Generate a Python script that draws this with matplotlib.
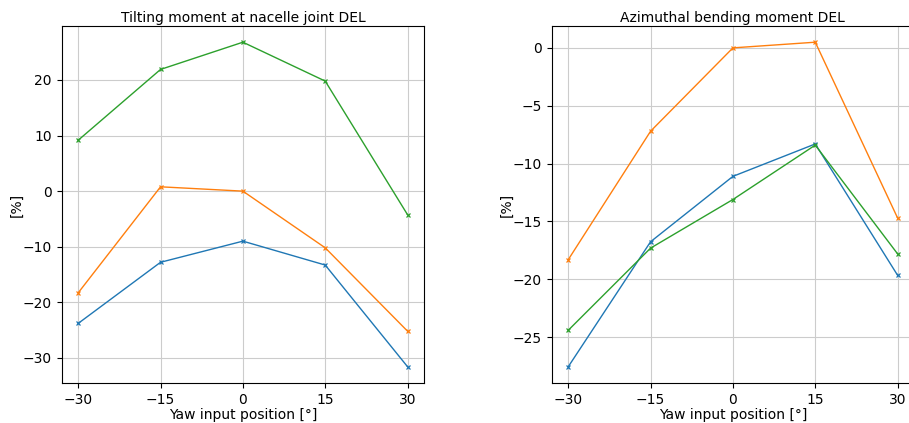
import numpy as np
import matplotlib
matplotlib.use("Agg")
import matplotlib.pyplot as plt

yaw = [-30, -15, 0, 15, 30]

# Tilting moment at nacelle joint, DEL change [%]
tilt_blue = [-23.8, -12.8, -9.0, -13.3, -31.6]
tilt_orange = [-18.3, 0.78, 0.0, -10.2, -25.2]
tilt_green = [9.16, 21.9, 26.8, 19.8, -4.25]

# Azimuthal bending moment, DEL change [%]
azi_blue = [-27.55, -16.75, -11.1, -8.3, -19.65]
azi_orange = [-18.3, -7.2, 0.0, 0.49, -14.7]
azi_green = [-24.4, -17.3, -13.1, -8.4, -17.8]

plt.rcParams["font.size"] = 10

fig = plt.figure(figsize=(9.09, 4.23), dpi=100)
ax1 = fig.add_axes([0.0679, 0.0946, 0.3986, 0.844])
ax2 = fig.add_axes([0.607, 0.0946, 0.3986, 0.844])

def draw(ax, series, title):
    for s in series:
        ax.plot(yaw, s, marker="x", markersize=3.5, markeredgewidth=0.9,
                linewidth=1)
    ax.set_title(title, fontsize=10, pad=3)
    ax.set_xlabel("Yaw input position [°]", labelpad=1)
    ax.set_ylabel("[%]", labelpad=-0.5)
    ax.set_xticks(yaw)
    ax.grid(True, color="#cccccc", linewidth=0.8)

draw(ax1, [tilt_blue, tilt_orange, tilt_green], "Tilting moment at nacelle joint DEL")
draw(ax2, [azi_blue, azi_orange, azi_green], "Azimuthal bending moment DEL")

fig.savefig("out.png", dpi=100)
